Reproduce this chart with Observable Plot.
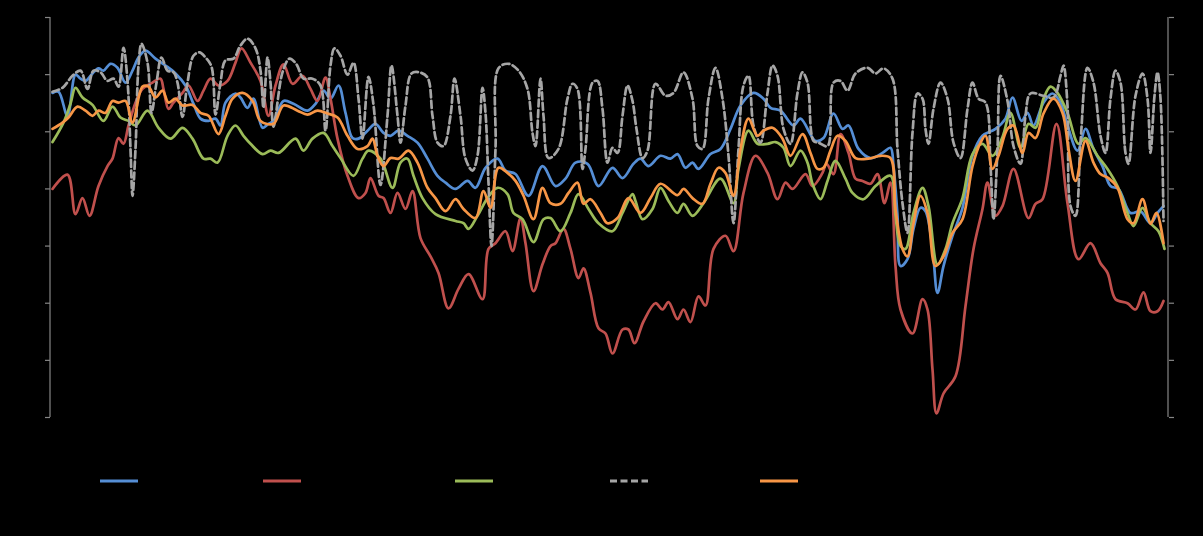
<!DOCTYPE html>
<html>
<head>
<meta charset="utf-8">
<script src="https://cdn.jsdelivr.net/npm/d3@7"></script>
<script src="https://cdn.jsdelivr.net/npm/@observablehq/plot@0.6"></script>
<style>
  html, body { margin: 0; padding: 0; background: #000; }
  #chart svg { display: block; background: #000; }
  #legend { position: relative; width: 1203px; height: 86px; background: #000; }
  #legend .item { position: absolute; top: 27px; height: 8px; }
</style>
</head>
<body>
<div id="chart"></div>
<div id="legend"></div>
<script>
// y tick values (unlabelled in the source)
const yTicks = [0, 1, 2, 3, 4, 5, 6, 7];

// series samples: [t, value]
const blue = [[0,5.68],[6,5.70],[15,5.28],[23,6.00],[28,5.93],[33,5.89],[40,6.02],[46,6.11],[51,6.07],[58,6.19],[65,6.12],[73,5.86],[80,6.07],[86,6.30],[93,6.42],[103,6.28],[113,6.16],[123,6.02],[133,5.81],[141,5.49],[148,5.23],[156,5.19],[163,5.23],[168,5.11],[173,5.51],[183,5.67],[188,5.60],[195,5.42],[201,5.58],[210,5.07],[216,5.14],[221,5.19],[231,5.54],[241,5.49],[255,5.37],[263,5.49],[271,5.72],[278,5.58],[286,5.81],[293,5.33],[300,4.89],[306,4.88],[315,5.02],[323,5.14],[331,4.98],[338,4.93],[346,5.02],[355,4.93],[365,4.81],[375,4.53],[385,4.23],[393,4.11],[403,4.00],[415,4.14],[423,4.02],[433,4.37],[445,4.53],[453,4.32],[463,4.26],[476,3.88],[490,4.40],[503,4.05],[513,4.18],[523,4.46],[535,4.44],[546,4.05],[560,4.37],[570,4.19],[581,4.44],[588,4.53],[596,4.40],[608,4.58],[618,4.53],[625,4.61],[633,4.37],[640,4.46],[646,4.35],[658,4.61],[668,4.70],[678,5.05],[688,5.46],[701,5.68],[711,5.58],[718,5.42],[728,5.37],[741,5.11],[748,5.23],[763,4.84],[771,4.89],[781,5.32],[790,5.05],[796,5.11],[806,4.70],[818,4.54],[830,4.63],[838,4.72],[841,4.40],[845,3.53],[848,2.65],[855,2.77],[861,3.30],[868,3.67],[873,3.61],[880,2.95],[885,2.18],[891,2.65],[900,3.18],[910,3.67],[920,4.58],[930,4.93],[943,5.05],[953,5.23],[960,5.60],[969,5.19],[975,5.33],[981,5.11],[991,5.51],[1000,5.67],[1008,5.51],[1015,5.11],[1025,4.67],[1033,5.05],[1041,4.70],[1050,4.40],[1058,4.05],[1066,4.00],[1078,3.58],[1088,3.61],[1098,3.40],[1105,3.58],[1111,3.70]];

const red = [[0,4.00],[15,4.25],[23,3.56],[30,3.84],[37,3.53],[46,4.05],[55,4.40],[60,4.53],[66,4.89],[71,4.79],[76,5.11],[83,5.51],[90,5.75],[100,5.86],[108,5.93],[111,5.75],[116,5.40],[121,5.51],[130,5.68],[136,5.81],[145,5.54],[151,5.72],[158,5.93],[166,5.81],[175,5.89],[183,6.21],[189,6.46],[198,6.21],[208,5.89],[216,5.28],[223,5.81],[231,6.18],[240,5.84],[250,5.98],[258,5.75],[265,5.54],[273,5.95],[278,5.58],[285,4.88],[295,4.23],[306,3.84],[313,3.93],[318,4.19],[326,3.88],[331,3.84],[338,3.58],[345,3.93],[353,3.65],[360,3.96],[368,3.14],[378,2.82],[386,2.53],[396,1.91],[406,2.25],[416,2.51],[430,2.07],[436,2.95],[443,3.05],[453,3.26],[460,2.91],[468,3.49],[473,3.05],[481,2.21],[490,2.68],[498,3.00],[503,3.05],[511,3.30],[518,2.95],[526,2.44],[531,2.61],[538,2.18],[546,1.56],[553,1.47],[560,1.12],[570,1.54],[576,1.54],[582,1.30],[591,1.68],[603,2.00],[610,1.89],[616,2.02],[625,1.72],[631,1.89],[638,1.67],[646,2.12],[653,1.96],[661,2.95],[673,3.18],[681,2.91],[691,3.93],[703,4.58],[715,4.28],[725,3.82],[733,4.11],[740,4.00],[753,4.26],[760,4.05],[770,4.28],[774,4.44],[781,4.26],[788,4.96],[796,4.63],[803,4.18],[810,4.14],[818,4.09],[825,4.26],[832,3.75],[838,4.11],[843,2.65],[848,1.89],[860,1.47],[870,2.07],[875,1.89],[880,0.84],[884,0.07],[891,0.42],[903,0.72],[913,1.95],[921,2.95],[930,3.65],[935,4.11],[943,3.53],[950,3.70],[961,4.35],[976,3.49],[983,3.74],[990,3.82],[1004,5.14],[1015,3.75],[1026,2.77],[1038,3.05],[1048,2.70],[1055,2.53],[1063,2.07],[1075,2.00],[1083,1.89],[1091,2.19],[1098,1.86],[1105,1.86],[1111,2.04]];

const green = [[0,4.82],[11,5.16],[18,5.49],[23,5.77],[30,5.60],[40,5.47],[51,5.19],[60,5.44],[68,5.25],[76,5.19],[83,5.11],[95,5.37],[106,5.07],[118,4.88],[130,5.07],[140,4.88],[151,4.53],[158,4.53],[165,4.46],[175,4.93],[183,5.11],[191,4.93],[198,4.79],[210,4.61],[218,4.67],[226,4.63],[243,4.88],[251,4.67],[260,4.88],[271,4.98],[280,4.75],[288,4.54],[301,4.23],[310,4.53],[316,4.67],[328,4.53],[340,4.02],[348,4.46],[355,4.53],[361,4.23],[370,3.84],[383,3.56],[403,3.44],[411,3.40],[416,3.30],[425,3.53],[435,3.84],[445,4.02],[455,3.91],[461,3.58],[470,3.47],[481,3.07],[491,3.47],[498,3.49],[508,3.26],[518,3.58],[526,3.91],[536,3.65],[546,3.40],[560,3.26],[570,3.58],[580,3.91],[583,3.79],[590,3.47],[600,3.65],[608,4.02],[616,3.79],[625,3.58],[631,3.74],[640,3.53],[651,3.75],[668,4.18],[681,3.75],[686,4.35],[696,5.02],[705,4.79],[715,4.79],[723,4.82],[731,4.72],[738,4.40],[748,4.67],[755,4.46],[760,4.09],[768,3.82],[775,4.14],[783,4.49],[793,4.18],[800,3.93],[811,3.82],[823,4.05],[838,4.23],[843,3.53],[848,3.00],[853,2.95],[861,3.58],[870,4.02],[876,3.70],[885,2.68],[893,2.95],[900,3.40],[910,3.84],[920,4.61],[930,4.79],[940,4.58],[950,4.91],[958,5.33],[968,4.72],[976,5.14],[983,5.07],[991,5.58],[998,5.79],[1005,5.68],[1015,5.33],[1026,4.79],[1033,4.89],[1045,4.58],[1055,4.35],[1065,4.05],[1075,3.58],[1081,3.35],[1090,3.67],[1098,3.40],[1106,3.26],[1112,2.95]];

const gray = [[0,5.70],[10,5.77],[20,5.98],[28,6.07],[35,5.75],[41,6.07],[48,6.04],[55,5.89],[61,5.93],[66,5.79],[71,6.47],[75,5.89],[78,4.70],[80,3.88],[83,4.70],[86,6.16],[89,6.54],[95,6.21],[99,5.33],[104,5.86],[109,6.30],[115,6.07],[121,6.04],[125,5.86],[130,5.26],[135,5.86],[141,6.33],[147,6.39],[153,6.30],[159,6.14],[163,5.30],[168,5.86],[173,6.25],[181,6.28],[188,6.51],[195,6.63],[203,6.46],[208,6.07],[211,5.42],[215,6.30],[218,5.86],[221,5.09],[230,6.04],[237,6.28],[244,6.18],[251,5.93],[260,5.93],[268,5.81],[273,5.02],[278,6.16],[282,6.46],[288,6.33],[295,6.00],[301,6.21],[306,5.58],[310,4.88],[316,5.96],[321,5.47],[328,4.07],[335,5.28],[339,6.16],[345,5.28],[348,4.81],[353,5.46],[359,6.02],[367,6.04],[375,5.95],[380,5.28],[385,4.81],[391,4.75],[398,5.28],[402,5.93],[408,5.28],[413,4.53],[420,4.32],[425,4.58],[430,5.77],[433,5.33],[436,4.11],[439,3.00],[443,4.70],[446,6.11],[456,6.19],[466,6.07],[475,5.75],[480,4.98],[483,4.75],[488,5.93],[491,5.28],[496,4.54],[506,4.70],[515,5.58],[520,5.84],[525,5.75],[530,4.35],[533,4.70],[540,5.86],[545,5.89],[550,5.40],[555,4.46],[560,4.72],[565,4.63],[570,5.28],[575,5.81],[580,5.54],[584,5.05],[590,4.54],[595,4.67],[603,5.84],[613,5.63],[621,5.68],[631,6.04],[640,5.58],[645,4.75],[650,4.70],[656,5.58],[663,6.12],[670,5.58],[676,4.58],[681,3.40],[686,4.70],[691,5.81],[696,5.98],[701,5.11],[708,4.81],[715,5.68],[720,6.16],[725,5.98],[731,5.05],[738,4.79],[745,5.68],[750,6.04],[755,5.86],[761,4.84],[766,4.81],[775,4.75],[781,5.86],[788,5.89],[795,5.72],[803,6.02],[815,6.12],[823,6.02],[831,6.11],[840,5.93],[845,4.70],[850,3.75],[855,3.23],[860,4.98],[865,5.67],[870,5.58],[873,5.05],[876,4.79],[881,5.40],[888,5.86],[895,5.58],[901,4.81],[908,4.54],[915,5.40],[920,5.86],[926,5.58],[933,5.51],[938,4.40],[941,3.47],[945,4.70],[948,5.98],[955,5.54],[961,4.75],[968,4.44],[973,5.28],[978,5.67],[991,5.63],[1001,5.60],[1008,5.98],[1011,6.16],[1015,5.46],[1018,3.70],[1023,3.53],[1028,4.81],[1035,6.12],[1041,5.86],[1048,4.93],[1053,4.63],[1058,5.58],[1063,6.07],[1068,5.86],[1073,4.63],[1076,4.44],[1083,5.63],[1090,6.02],[1095,5.58],[1098,4.63],[1102,5.63],[1105,6.04],[1108,5.58],[1111,3.44]];

const orange = [[0,5.05],[10,5.16],[16,5.25],[25,5.44],[33,5.37],[40,5.28],[46,5.37],[53,5.33],[60,5.54],[66,5.51],[73,5.54],[80,5.16],[90,5.79],[96,5.79],[103,5.60],[110,5.72],[116,5.51],[123,5.58],[130,5.46],[140,5.47],[148,5.33],[156,5.28],[166,4.96],[173,5.28],[180,5.58],[190,5.68],[200,5.54],[208,5.19],[221,5.14],[231,5.46],[245,5.37],[255,5.30],[265,5.37],[275,5.32],[285,5.25],[295,4.93],[305,4.70],[315,4.75],[320,4.88],[325,4.58],[331,4.40],[338,4.54],[346,4.53],[356,4.67],[365,4.46],[375,4.02],[383,3.84],[393,3.61],[403,3.82],[411,3.65],[423,3.49],[431,3.96],[438,3.67],[446,4.37],[455,4.28],[463,4.14],[471,3.88],[481,3.47],[490,4.02],[498,3.75],[508,3.74],[516,3.93],[525,4.11],[531,3.74],[538,3.82],[548,3.58],[555,3.40],[565,3.49],[576,3.84],[588,3.58],[598,3.84],[608,4.09],[625,3.89],[631,4.00],[640,3.84],[650,3.74],[658,4.09],[666,4.37],[673,4.28],[681,3.88],[688,4.70],[696,5.23],[705,4.93],[711,5.02],[720,5.07],[730,4.88],[738,4.58],[750,4.96],[758,4.63],[765,4.35],[771,4.37],[778,4.67],[785,4.93],[793,4.84],[803,4.54],[816,4.53],[828,4.58],[838,4.54],[843,3.65],[850,2.95],[855,2.82],[861,3.40],[868,3.88],[875,3.58],[883,2.65],[891,2.82],[900,3.23],[910,3.47],[920,4.40],[928,4.81],[933,4.93],[940,4.35],[946,4.58],[955,5.05],[961,5.11],[970,4.63],[976,4.98],[983,4.89],[991,5.32],[1001,5.58],[1010,5.33],[1016,4.70],[1023,4.14],[1033,4.84],[1041,4.46],[1048,4.26],[1056,4.19],[1065,4.02],[1075,3.47],[1081,3.40],[1090,3.82],[1098,3.39],[1104,3.58],[1111,3.05]];

const series = [
  {name: "Series 1", color: "#558ED5", dash: null, pts: blue},
  {name: "Series 2", color: "#C0504D", dash: null, pts: red},
  {name: "Series 3", color: "#9BBB59", dash: null, pts: green},
  {name: "Series 4", color: "#A6A6A6", dash: "7,3.5", pts: gray},
  {name: "Series 5", color: "#F79646", dash: null, pts: orange}
];

const axisColor = "#868686";

const lineMarks = series.map(s => Plot.line(s.pts, {
  x: d => d[0], y: d => d[1],
  stroke: s.color, strokeWidth: 2.7, strokeDasharray: s.dash,
  curve: "catmull-rom"
}));

// vertical axis lines at both frame edges
const axisLines = (index, scales, values, dim) => {
  const g = d3.create("svg:g");
  const top = dim.marginTop, bottom = dim.height - dim.marginBottom;
  [dim.marginLeft, dim.width - dim.marginRight].forEach(x => {
    g.append("line").attr("x1", x).attr("x2", x).attr("y1", top).attr("y2", bottom)
      .attr("stroke", axisColor).attr("stroke-width", 1.2);
  });
  return g.node();
};

const chart = Plot.plot({
  width: 1203,
  height: 450,
  marginTop: 17,
  marginBottom: 33,
  marginLeft: 50,
  marginRight: 35,
  style: {background: "#000", color: axisColor},
  x: {domain: [0, 1113], insetLeft: 2, insetRight: 3, axis: null},
  y: {domain: [0, 7], label: null},
  marks: [
    Plot.axisY(yTicks, {anchor: "left", tickSize: 5, tickFormat: () => "", stroke: axisColor, strokeWidth: 1.2, label: null}),
    Plot.axisY(yTicks, {anchor: "right", tickSize: 5, tickFormat: () => "", stroke: axisColor, strokeWidth: 1.2, label: null}),
    axisLines,
    ...lineMarks
  ]
});
document.getElementById("chart").appendChild(chart);

// legend swatches (labels are black on black in the source)
const legendLeft = [100, 263, 455, 610, 760];
const legend = d3.select("#legend");
series.forEach((s, i) => {
  const item = legend.append("div").attr("class", "item")
    .style("left", legendLeft[i] + "px").style("top", "21px");
  const svg = item.append("svg").attr("width", 38).attr("height", 8);
  svg.append("line").attr("x1", 0).attr("x2", 38).attr("y1", 4).attr("y2", 4)
    .attr("stroke", s.color).attr("stroke-width", 2.8)
    .attr("stroke-dasharray", s.dash);
});
</script>
</body>
</html>
